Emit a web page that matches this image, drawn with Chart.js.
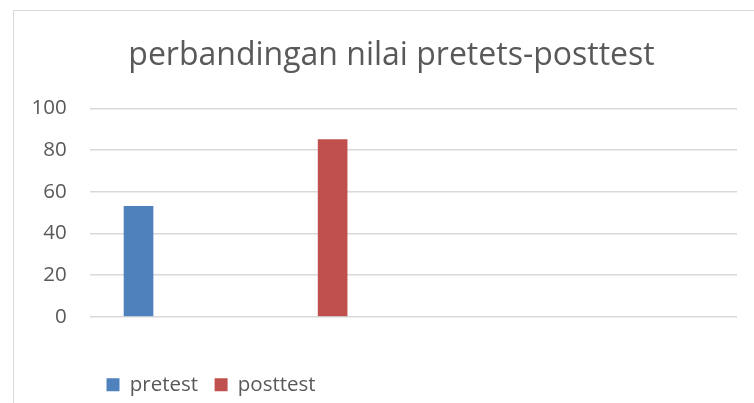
<!DOCTYPE html>
<html>
<head>
<meta charset="utf-8">
<script src="https://cdn.jsdelivr.net/npm/chart.js@4.4.1/dist/chart.umd.min.js"></script>
<style>
  html, body { margin: 0; padding: 0; background: #ffffff; overflow: hidden; width: 754px; height: 403px; }
  #frame { position: absolute; left: 13px; top: 10px; width: 800px; height: 420px;
           border-left: 1.5px solid #d9d9d9; border-top: 1.5px solid #d9d9d9; box-sizing: border-box; }
  #c { position: absolute; left: 0; top: 0; }
</style>
</head>
<body>
<div id="frame"></div>
<canvas id="c" width="754" height="405"></canvas>
<script>
// ---- data ----
const chartTitle = "perbandingan nilai pretets-posttest";
const categories = ["1","2","3","4","5","6","7","8","9","10","11","12","13","14","15","16","17","18","19","20"];
const pretestValues  = [null, 53, null, null, null, null, null, null, null, null, null, null, null, null, null, null, null, null, null, null];
const posttestValues = [null, null, null, null, null, null, null, 85, null, null, null, null, null, null, null, null, null, null, null, null];
const seriesNames = ["pretest", "posttest"];
const yTicks = [0, 20, 40, 60, 80, 100];

const textColor = "#595959";
const gridColor = "#d9d9d9";
const baseFont = "'Open Sans', 'Noto Sans', sans-serif";

new Chart(document.getElementById("c"), {
  type: "bar",
  data: {
    labels: categories,
    datasets: [
      { label: seriesNames[0], data: pretestValues, backgroundColor: "#4f81bd", borderWidth: 0 },
      { label: seriesNames[1], data: posttestValues, backgroundColor: "#c0504d", borderWidth: 0 }
    ]
  },
  options: {
    responsive: false,
    animation: false,
    devicePixelRatio: 1,
    layout: { padding: { left: 29, right: 0, top: 0, bottom: 0 } },
    datasets: { bar: { grouped: false, barThickness: 29 } },
    plugins: {
      title: {
        display: true,
        text: chartTitle,
        color: textColor,
        font: { family: baseFont, size: 32, weight: "normal", lineHeight: 1.2 },
        padding: { top: 37, bottom: 33 }
      },
      legend: {
        display: true,
        position: "bottom",
        align: "start",
        fullSize: false,
        labels: {
          color: textColor,
          font: { family: baseFont, size: 20.5 },
          boxWidth: 13,
          boxHeight: 13,
          padding: 16.5
        }
      },
      tooltip: { enabled: false }
    },
    scales: {
      x: {
        grid: { display: false },
        border: { display: false },
        ticks: { display: false },
        afterFit: (s) => { s.height = 41.3; }
      },
      y: {
        min: yTicks[0],
        max: yTicks[yTicks.length - 1],
        afterBuildTicks: (s) => { s.ticks = yTicks.map(v => ({ value: v })); },
        grid: { color: gridColor, lineWidth: 1.5, drawTicks: false },
        border: { display: false },
        ticks: {
          color: textColor,
          font: { family: baseFont, size: 20.5 },
          padding: 23.3
        },
        afterFit: (s) => { s.width = 61; }
      },
      yRightSpace: {
        type: "linear",
        position: "right",
        display: true,
        grid: { display: false },
        border: { display: false },
        ticks: { display: false },
        afterFit: (s) => { s.width = 17; }
      }
    }
  }
});
</script>
</body>
</html>
